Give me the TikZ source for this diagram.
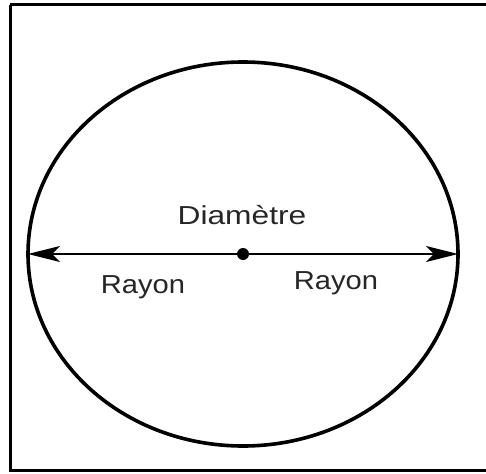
\documentclass[tikz,border=0pt]{standalone}
\usepackage{fontspec}
\setmainfont{Liberation Sans}
\usetikzlibrary{arrows.meta}
\tikzset{
  frame/.style={line width=3pt},
  circ/.style={line width=3.6pt},
  diam/.style={line width=2.4pt, {Stealth[length=32pt,width=16pt,inset=8pt]}-{Stealth[length=32pt,width=16pt,inset=8pt]}},
  lbl/.style={font=\fontsize{26}{29}\selectfont, text=black!85, inner sep=0pt}
}
\begin{document}
\begin{tikzpicture}[x=1pt,y=-1pt]
\useasboundingbox (0,0) rectangle (486,473);
\fill[white] (0,0) rectangle (486,473);
\draw[frame] (10,5) -- (495,5) (10,5) -- (10,470) -- (495,470);
\coordinate (c) at (243,254);
\draw[circ] (c) ellipse [x radius=215, y radius=192];
\coordinate (L) at (28,254);
\coordinate (R) at (458,254);
\draw[diam] (L) -- (R);
\fill (c) circle (6);
\node[lbl] (d) at (242,215) {\scalebox{1.22}[1]{Diamètre}};
\node[lbl] (r1) at (143,287) {\scalebox{1.12}[1]{Rayon}};
\node[lbl] (r2) at (336,283) {\scalebox{1.12}[1]{Rayon}};
\end{tikzpicture}
\end{document}
